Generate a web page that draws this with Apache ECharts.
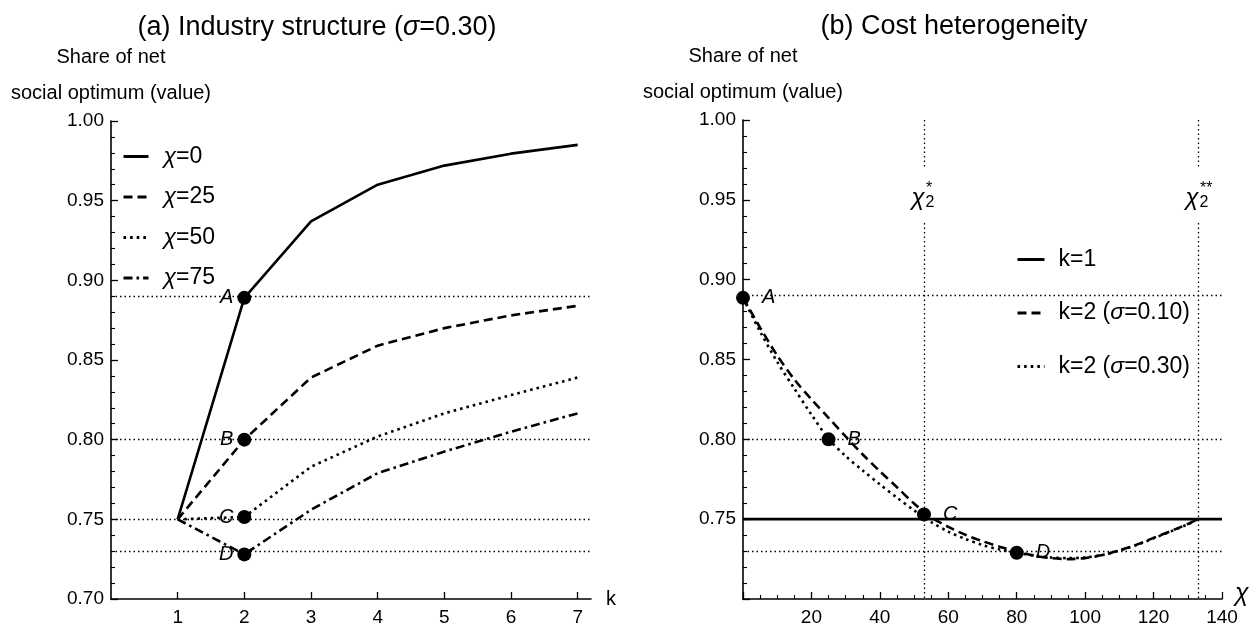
<!DOCTYPE html>
<html>
<head>
<meta charset="utf-8">
<title>Share of net social optimum</title>
<script src="https://cdn.jsdelivr.net/npm/echarts@6/dist/echarts.min.js"></script>
<style>
  html, body { margin: 0; padding: 0; background: #fff; }
  #main { width: 1260px; height: 631px; }
</style>
</head>
<body>
<div id="main"></div>
<script>
// (a) industry structure, sigma = 0.30
var kValues = [1, 2, 3, 4, 5, 6, 7];
var chi0  = [0.750, 0.889, 0.937, 0.960, 0.972, 0.9795, 0.985];
var chi25 = [0.750, 0.800, 0.839, 0.859, 0.870, 0.878, 0.884];
var chi50 = [0.750, 0.7515, 0.783, 0.802, 0.8165, 0.828, 0.839];
var chi75 = [0.750, 0.728, 0.756, 0.779, 0.7925, 0.805, 0.8165];
var leftNames = ['χ=0', 'χ=25', 'χ=50', 'χ=75'];
var leftPointX = [2, 2, 2, 2];
var leftPointY = [0.889, 0.800, 0.7515, 0.728];
var pointNames = ['A', 'B', 'C', 'D'];

// (b) cost heterogeneity
var chiK1 = [0, 140];
var valK1 = [0.75, 0.75];
var chiK2 = [0, 5, 10, 15, 20, 25, 30, 35, 40, 45, 50, 55, 60, 65, 70, 75, 80, 85, 90, 95, 100, 105, 110, 115, 120, 125, 130, 133];
var sig10 = [0.8886, 0.8700, 0.8525, 0.8375, 0.8250, 0.8135, 0.8018, 0.7905, 0.7800, 0.7700, 0.7598, 0.7512, 0.7452, 0.7402,
             0.7362, 0.7328, 0.7298, 0.7272, 0.7256, 0.7250, 0.7256, 0.7275, 0.7305, 0.7340, 0.7383, 0.7425, 0.7470, 0.7500];
var sig30 = [0.8886, 0.8675, 0.8485, 0.8318, 0.8155, 0.8003, 0.7895, 0.7805, 0.7718, 0.7635, 0.7555, 0.7482, 0.7422, 0.7376,
             0.7338, 0.7310, 0.7290, 0.7272, 0.7260, 0.7256, 0.7260, 0.7276, 0.7303, 0.7338, 0.7380, 0.7423, 0.7468, 0.7500];
var rightNames = ['k=1', 'k=2 (σ=0.10)', 'k=2 (σ=0.30)'];
var rightPointX = [0, 25, 52.9, 80];
var rightPointY = [0.8886, 0.800, 0.753, 0.729];
var rightRefY = [0.8886, 0.800, 0.729];
var chiStar = [52.9, 133];
var chiStarMarks = ['*', '**'];

var FONT = "'Liberation Sans', Arial, Helvetica, sans-serif";

function zip(xs, ys) {
  return xs.map(function (x, i) { return [x, ys[i]]; });
}

var axisLine = { show: true, lineStyle: { color: '#000', width: 1.6 } };

function yAxisFor(idx, hideMin) {
  return {
    gridIndex: idx, type: 'value', min: 0.7, max: 1.0, interval: 0.05,
    axisLine: axisLine,
    axisTick: { inside: true, length: 7, lineStyle: { color: '#000', width: 1.3 } },
    minorTick: { show: true, splitNumber: 5, length: 4, lineStyle: { color: '#000', width: 1.1 } },
    splitLine: { show: false },
    axisLabel: {
      color: '#000', fontSize: 19, fontFamily: FONT, margin: 7,
      formatter: function (v) { return (hideMin && v < 0.71) ? '' : v.toFixed(2); }
    },
    name: 'Share of net\nsocial optimum (value)', nameLocation: 'end', nameGap: 8,
    nameTextStyle: { color: '#000', fontSize: 20, lineHeight: 36, align: 'center', fontFamily: FONT }
  };
}

var refLine = { color: '#000', width: 1.3, type: [1.5, 3] };
var dotStyle = { color: '#000', opacity: 1 };

var chart = echarts.init(document.getElementById('main'));

var option = {
  animation: false,
  backgroundColor: '#fff',
  textStyle: { fontFamily: FONT, color: '#000' },
  title: [
    { text: '(a) Industry structure ({i|σ}=0.30)', left: 312, top: 9, textAlign: 'center',
      textStyle: { fontSize: 27, fontWeight: 'normal', color: '#000', fontFamily: FONT,
        rich: { i: { fontSize: 27, fontStyle: 'italic', color: '#000', fontFamily: FONT } } } },
    { text: '(b) Cost heterogeneity', left: 949, top: 8, textAlign: 'center',
      textStyle: { fontSize: 27, fontWeight: 'normal', color: '#000', fontFamily: FONT } }
  ],
  legend: [
    { data: leftNames, orient: 'vertical', left: 117, top: 140, itemWidth: 25, itemHeight: 14, itemGap: 17.5,
      selectedMode: false, itemStyle: { opacity: 0 }, lineStyle: { width: 3 },
      formatter: function (n) { return '{i|χ}' + n.slice(1); },
      textStyle: { fontSize: 23, lineHeight: 20, color: '#000', fontFamily: FONT, padding: [0, 0, 0, 10],
        rich: { i: { fontSize: 23, lineHeight: 20, fontStyle: 'italic', fontFamily: FONT } } } },
    { data: rightNames, orient: 'vertical', left: 1011, top: 243, itemWidth: 27, itemHeight: 14, itemGap: 30.5,
      selectedMode: false, itemStyle: { opacity: 0 }, lineStyle: { width: 3 },
      formatter: function (n) { return n.replace('σ', '{i|σ}'); },
      textStyle: { fontSize: 23, lineHeight: 20, color: '#000', fontFamily: FONT, padding: [0, 0, 0, 9],
        rich: { i: { fontSize: 23, lineHeight: 20, fontStyle: 'italic', fontFamily: FONT } } } }
  ],
  grid: [
    { left: 111, top: 121, width: 480, height: 478 },
    { left: 743, top: 120, width: 479, height: 479 }
  ],
  xAxis: [
    { gridIndex: 0, type: 'value', min: 0, max: 7.2, interval: 1,
      axisLine: axisLine,
      axisTick: { inside: true, length: 7, customValues: kValues, lineStyle: { color: '#000', width: 1.3 } },
      axisLabel: { customValues: kValues, color: '#000', fontSize: 19, fontFamily: FONT, margin: 9 },
      splitLine: { show: false },
      name: 'k', nameLocation: 'end', nameGap: 15,
      nameTextStyle: { color: '#000', fontSize: 20, fontFamily: FONT, verticalAlign: 'middle', align: 'left' } },
    { gridIndex: 1, type: 'value', min: 0, max: 140, interval: 20,
      axisLine: axisLine,
      axisTick: { inside: true, length: 7, lineStyle: { color: '#000', width: 1.3 } },
      minorTick: { show: true, splitNumber: 4, length: 4, lineStyle: { color: '#000', width: 1.1 } },
      axisLabel: { color: '#000', fontSize: 19, fontFamily: FONT, margin: 9,
        formatter: function (v) { return v === 0 ? '' : String(v); } },
      splitLine: { show: false },
      name: 'χ', nameLocation: 'end', nameGap: 13,
      nameTextStyle: { color: '#000', fontSize: 25, fontStyle: 'italic', fontFamily: FONT,
        verticalAlign: 'bottom', align: 'left', padding: [0, 0, -8, 0] } }
  ],
  yAxis: [yAxisFor(0, false), yAxisFor(1, true)],
  series: [
    // reference lines (a)
    { type: 'line', xAxisIndex: 0, yAxisIndex: 0, data: [], z: 1, silent: true,
      markLine: { silent: true, symbol: 'none', label: { show: false }, lineStyle: refLine,
        data: leftPointY.map(function (v) { return { yAxis: v }; }) } },
    { name: leftNames[0], type: 'line', xAxisIndex: 0, yAxisIndex: 0, data: zip(kValues, chi0), symbol: 'none',
      lineStyle: { color: '#000', width: 2.6, type: 'solid' }, itemStyle: { color: '#000' } },
    { name: leftNames[1], type: 'line', xAxisIndex: 0, yAxisIndex: 0, data: zip(kValues, chi25), symbol: 'none',
      lineStyle: { color: '#000', width: 2.6, type: [9, 5] }, itemStyle: { color: '#000' } },
    { name: leftNames[2], type: 'line', xAxisIndex: 0, yAxisIndex: 0, data: zip(kValues, chi50), symbol: 'none',
      lineStyle: { color: '#000', width: 2.6, type: [2.6, 4] }, itemStyle: { color: '#000' } },
    { name: leftNames[3], type: 'line', xAxisIndex: 0, yAxisIndex: 0, data: zip(kValues, chi75), symbol: 'none',
      lineStyle: { color: '#000', width: 2.6, type: [9, 4, 2.6, 4] }, itemStyle: { color: '#000' } },
    { type: 'scatter', xAxisIndex: 0, yAxisIndex: 0, symbolSize: 14, clip: false, z: 5,
      itemStyle: dotStyle,
      data: leftPointX.map(function (x, i) { return [x, leftPointY[i], pointNames[i]]; }),
      label: { show: true, position: 'left', distance: 4, color: '#000', fontSize: 20, fontStyle: 'italic',
        fontFamily: FONT, formatter: function (p) { return p.value[2]; } } },

    // reference lines (b)
    { type: 'line', xAxisIndex: 1, yAxisIndex: 1, data: [], z: 1, silent: true,
      markLine: { silent: true, symbol: 'none', label: { show: false }, lineStyle: refLine,
        data: rightRefY.map(function (v) { return { yAxis: v }; })
          .concat(chiStar.map(function (c) { return [{ coord: [c, 1.0] }, { coord: [c, 0.969] }]; }))
          .concat(chiStar.map(function (c) { return [{ coord: [c, 0.9355] }, { coord: [c, 0.7] }]; })) } },
    { name: rightNames[0], type: 'line', xAxisIndex: 1, yAxisIndex: 1, data: zip(chiK1, valK1), symbol: 'none',
      lineStyle: { color: '#000', width: 2.8, type: 'solid' }, itemStyle: { color: '#000' } },
    { name: rightNames[1], type: 'line', xAxisIndex: 1, yAxisIndex: 1, data: zip(chiK2, sig10), symbol: 'none',
      smooth: 0.3, lineStyle: { color: '#000', width: 2.6, type: [9, 5] }, itemStyle: { color: '#000' } },
    { name: rightNames[2], type: 'line', xAxisIndex: 1, yAxisIndex: 1, data: zip(chiK2, sig30), symbol: 'none',
      smooth: 0.3, lineStyle: { color: '#000', width: 2.6, type: [2.6, 4] }, itemStyle: { color: '#000' } },
    { type: 'scatter', xAxisIndex: 1, yAxisIndex: 1, symbolSize: 14, clip: false, z: 5,
      itemStyle: dotStyle,
      data: rightPointX.map(function (x, i) { return [x, rightPointY[i], pointNames[i]]; }),
      label: { show: true, position: 'right', distance: 12, color: '#000', fontSize: 20, fontStyle: 'italic',
        fontFamily: FONT, formatter: function (p) { return p.value[2]; } } }
  ]
};

chart.setOption(option);

// chi_2^* and chi_2^** labels in the gaps of the vertical lines
var labels = [];
chiStar.forEach(function (c, i) {
  var p = chart.convertToPixel({ xAxisIndex: 1, yAxisIndex: 1 }, [c, 0.952]);
  labels.push({
    type: 'group', x: p[0], y: p[1], silent: true,
    children: [
      { type: 'text', x: -6, y: 2, style: { text: 'χ', font: 'italic 24px ' + FONT, fill: '#000',
        align: 'center', verticalAlign: 'middle' } },
      { type: 'text', x: 6, y: 6, style: { text: '2', font: '16px ' + FONT, fill: '#000',
        align: 'center', verticalAlign: 'middle' } },
      { type: 'text', x: 2, y: -8, style: { text: chiStarMarks[i], font: '16px ' + FONT, fill: '#000',
        align: 'left', verticalAlign: 'middle' } }
    ]
  });
});
chart.setOption({ graphic: labels });
</script>
</body>
</html>
